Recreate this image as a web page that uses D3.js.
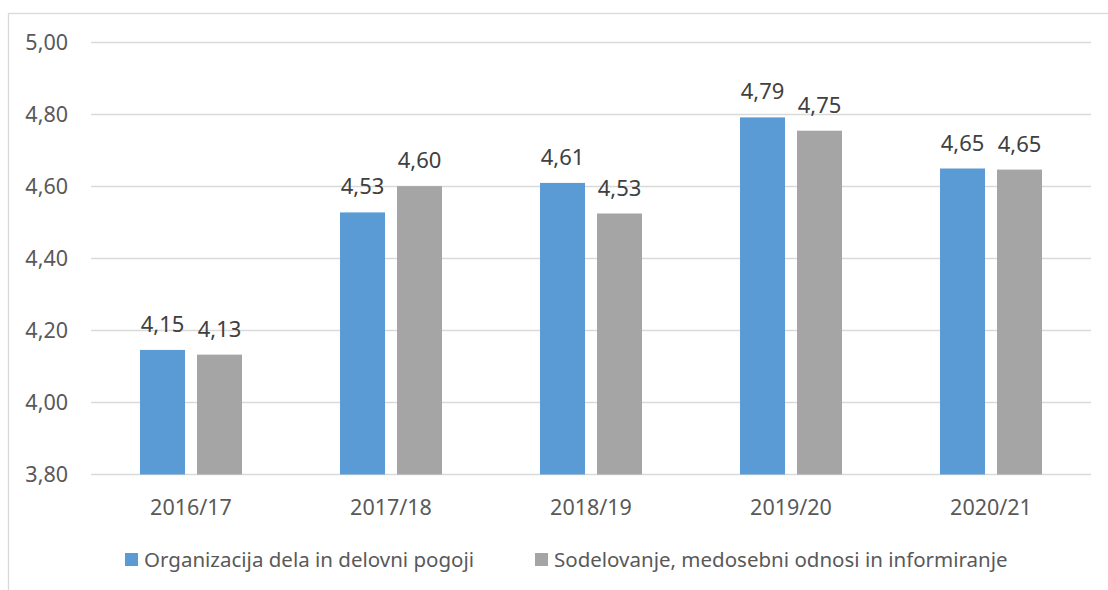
<!DOCTYPE html>
<html>
<head>
<meta charset="utf-8">
<script src="https://cdn.jsdelivr.net/npm/d3@7"></script>
<style>
  body { margin: 0; background: #fff; }
  text { font-family: "Noto Sans", sans-serif; }
</style>
</head>
<body>
<div id="chart"></div>
<script>
var years = ["2016/17", "2017/18", "2018/19", "2019/20", "2020/21"];
var keys = ["Organizacija dela in delovni pogoji", "Sodelovanje, medosebni odnosi in informiranje"];
var organizacija = [4.146, 4.528, 4.610, 4.792, 4.650];
var sodelovanje = [4.133, 4.601, 4.525, 4.755, 4.647];
var yTicks = [3.8, 4.0, 4.2, 4.4, 4.6, 4.8, 5.0];

var W = 1108, H = 590;
var margin = {top: 42.5, right: 17, bottom: 115.5, left: 91},
    width = W - margin.left - margin.right,
    height = H - margin.top - margin.bottom;

var svg = d3.select("#chart").append("svg")
    .attr("width", W)
    .attr("height", H);

// outer frame (runs off the right and bottom edges)
svg.append("rect")
    .attr("x", 8.5).attr("y", 13.5)
    .attr("width", W + 20).attr("height", H + 20)
    .attr("fill", "none")
    .attr("stroke", "#d9d9d9")
    .attr("stroke-width", 1.3);

var g = svg.append("g").attr("transform", "translate(" + margin.left + "," + margin.top + ")");

var data = years.map(function(y, i) {
  return {year: y, values: [organizacija[i], sodelovanje[i]]};
});

var x0 = d3.scaleBand()
    .domain(years)
    .range([0, width])
    .paddingInner(0.49)
    .paddingOuter(0.245);

var x1 = d3.scaleBand()
    .domain([0, 1])
    .range([0, x0.bandwidth()])
    .paddingInner(12 / 57);

var y = d3.scaleLinear()
    .domain([3.8, 5.0])
    .range([height, 0]);

var z = d3.scaleOrdinal().domain([0, 1]).range(["#5b9bd5", "#a5a5a5"]);

var fmt = function(v) { return d3.format(".2f")(v).replace(".", ","); };

// grid
g.append("g")
  .selectAll("line")
  .data(yTicks)
  .enter().append("line")
    .attr("x1", 0).attr("x2", width)
    .attr("y1", function(d) { return y(d); })
    .attr("y2", function(d) { return y(d); })
    .attr("stroke", "#d9d9d9")
    .attr("stroke-width", 1.3);

// y labels
g.append("g")
  .selectAll("text")
  .data(yTicks)
  .enter().append("text")
    .attr("x", -23)
    .attr("y", function(d) { return y(d); })
    .attr("dy", "0.36em")
    .attr("text-anchor", "end")
    .attr("fill", "#595959")
    .attr("font-size", 21.5)
    .text(fmt);

// bars
var groups = g.append("g")
  .selectAll("g")
  .data(data)
  .enter().append("g")
    .attr("transform", function(d) { return "translate(" + x0(d.year) + ",0)"; });

groups.selectAll("rect")
  .data(function(d) { return d.values.map(function(v, k) { return {k: k, v: v}; }); })
  .enter().append("rect")
    .attr("x", function(d) { return x1(d.k); })
    .attr("y", function(d) { return y(d.v); })
    .attr("width", x1.bandwidth())
    .attr("height", function(d) { return height - y(d.v); })
    .attr("fill", function(d) { return z(d.k); });

groups.selectAll("text")
  .data(function(d) { return d.values.map(function(v, k) { return {k: k, v: v}; }); })
  .enter().append("text")
    .attr("x", function(d) { return x1(d.k) + x1.bandwidth() / 2; })
    .attr("y", function(d) { return y(d.v) - 18; })
    .attr("text-anchor", "middle")
    .attr("fill", "#404040")
    .attr("font-size", 22)
    .text(function(d) { return fmt(d.v); });

// x labels
g.append("g")
  .selectAll("text")
  .data(years)
  .enter().append("text")
    .attr("x", function(d) { return x0(d) + x0.bandwidth() / 2; })
    .attr("y", height + 33)
    .attr("dy", "0.36em")
    .attr("text-anchor", "middle")
    .attr("fill", "#595959")
    .attr("font-size", 21.5)
    .text(function(d) { return d; });

// legend
var legendX = [125, 535];
var legend = svg.append("g")
  .selectAll("g")
  .data(keys)
  .enter().append("g")
    .attr("transform", function(d, i) { return "translate(" + legendX[i] + ",553)"; });

legend.append("rect")
    .attr("width", 13)
    .attr("height", 13)
    .attr("fill", function(d, i) { return z(i); });

legend.append("text")
    .attr("x", 19)
    .attr("y", 14)
    .attr("fill", "#595959")
    .attr("font-size", 20.5)
    .text(function(d) { return d; });
</script>
</body>
</html>
